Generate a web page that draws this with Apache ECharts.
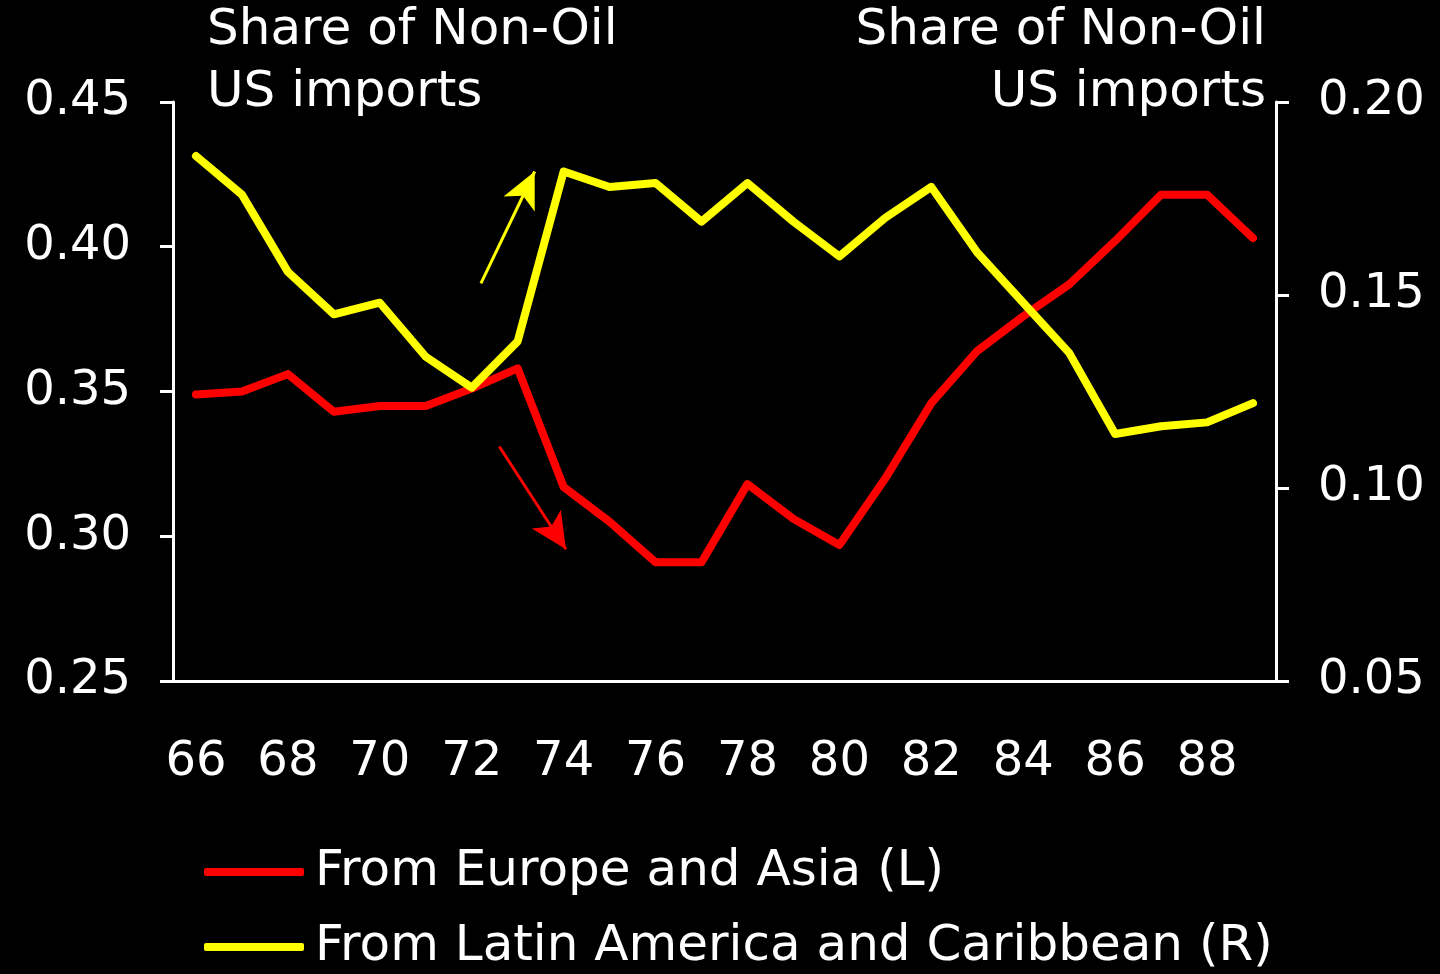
<!DOCTYPE html>
<html>
<head>
<meta charset="utf-8">
<script src="https://cdn.jsdelivr.net/npm/echarts@6/dist/echarts.min.js"></script>
<style>
  html, body { margin: 0; padding: 0; background: #000; }
  #chart { width: 1440px; height: 974px; }
</style>
</head>
<body>
<div id="chart"></div>
<script>
const years = ['66', '67', '68', '69', '70', '71', '72', '73', '74', '75', '76', '77',
  '78', '79', '80', '81', '82', '83', '84', '85', '86', '87', '88', '89']
// share of non-oil US imports, left axis
const europeAsia = [0.349, 0.350, 0.356, 0.343, 0.345, 0.345, 0.351, 0.358, 0.317, 0.305,
  0.291, 0.291, 0.318, 0.306, 0.297, 0.320, 0.346, 0.364, 0.376, 0.387, 0.402, 0.418, 0.418, 0.403]
// share of non-oil US imports, right axis
const latinAmerica = [0.186, 0.176, 0.156, 0.145, 0.148, 0.134, 0.126, 0.138, 0.182, 0.178,
  0.179, 0.169, 0.179, 0.169, 0.160, 0.170, 0.178, 0.161, 0.148, 0.135, 0.114, 0.116, 0.117, 0.122]
const leftTicks = [0.25, 0.45]
const rightTicks = [0.05, 0.20]
// annotation arrows, [year, value] from -> to
const redArrow = [[72.6, 0.331], [74.05, 0.2955]]
const yellowArrow = [[72.2, 0.153], [73.37, 0.182]]

const font = 'DejaVu Sans'
const axisTitle = 'Share of Non-Oil\nUS imports'
const chart = echarts.init(document.getElementById('chart'))

function valueAxis(ticks, nameAlign, namePad) {
  return {
    type: 'value',
    min: ticks[0],
    max: ticks[1],
    interval: 0.05,
    name: axisTitle,
    nameLocation: 'end',
    nameGap: -22,
    nameTextStyle: {
      color: '#fff', fontFamily: font, fontSize: 50, lineHeight: 62,
      align: nameAlign, verticalAlign: 'bottom', padding: namePad
    },
    axisLine: { show: true, lineStyle: { color: '#fff', width: 3 } },
    axisTick: { show: true, length: 13, lineStyle: { color: '#fff', width: 3 } },
    axisLabel: {
      color: '#fff', fontFamily: font, fontSize: 48, margin: 42,
      padding: [14, 0, 0, 0], formatter: v => v.toFixed(2)
    },
    splitLine: { show: false }
  }
}

function arrow(color, pts, yIndex) {
  return {
    type: 'line',
    xAxisIndex: 1,
    yAxisIndex: yIndex,
    data: [],
    silent: true,
    markLine: {
      silent: true,
      symbol: ['none', 'arrow'],
      symbolSize: [26, 36],
      label: { show: false },
      lineStyle: { color: color, width: 3, type: 'solid' },
      data: [[{ coord: pts[0] }, { coord: pts[1] }]]
    }
  }
}

chart.setOption({
  backgroundColor: '#000',
  animation: false,
  textStyle: { fontFamily: font, color: '#fff' },
  legend: {
    orient: 'vertical',
    left: 204,
    top: 847,
    padding: 0,
    itemWidth: 100,
    itemHeight: 8,
    itemGap: 25,
    textStyle: { color: '#fff', fontFamily: font, fontSize: 50, lineHeight: 50, padding: [0, 0, 0, 6] },
    data: [
      { name: 'From Europe and Asia (L)', icon: 'roundRect' },
      { name: 'From Latin America and Caribbean (R)', icon: 'roundRect' }
    ]
  },
  grid: { left: 173, right: 164, top: 98, bottom: 293 },
  xAxis: [{
    type: 'category',
    data: years,
    boundaryGap: true,
    axisLine: { lineStyle: { color: '#fff', width: 3 } },
    axisTick: { interval: 1, length: 13, lineStyle: { color: '#fff', width: 3 } },
    axisLabel: { interval: 1, color: '#fff', fontFamily: font, fontSize: 48, margin: 58 },
    splitLine: { show: false }
  }, {
    type: 'value',
    min: 65.5,
    max: 89.5,
    show: false
  }],
  yAxis: [valueAxis(leftTicks, 'left', [0, 0, 0, 34]), valueAxis(rightTicks, 'right', [0, 10, 0, 0])],
  series: [{
    name: 'From Europe and Asia (L)',
    type: 'line',
    yAxisIndex: 0,
    data: europeAsia,
    showSymbol: false,
    color: '#ff0000',
    lineStyle: { color: '#ff0000', width: 8, join: 'round', cap: 'round' }
  }, {
    name: 'From Latin America and Caribbean (R)',
    type: 'line',
    yAxisIndex: 1,
    data: latinAmerica,
    showSymbol: false,
    color: '#ffff00',
    lineStyle: { color: '#ffff00', width: 8, join: 'round', cap: 'round' }
  },
  arrow('#ff0000', redArrow, 0),
  arrow('#ffff00', yellowArrow, 1)]
})
</script>
</body>
</html>
